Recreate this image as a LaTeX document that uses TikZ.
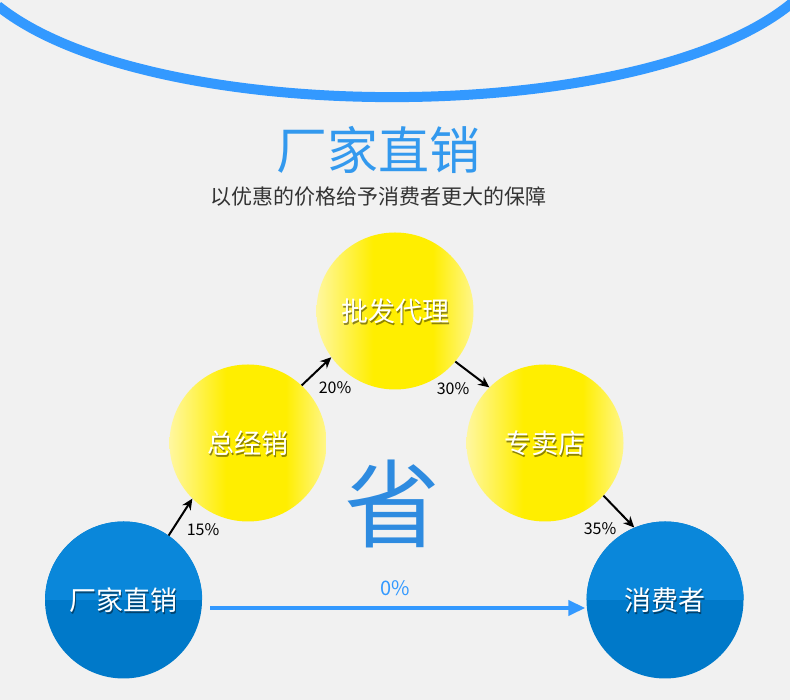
\documentclass[tikz,border=0pt]{standalone}
\usepackage{fontspec}
\setmainfont{Noto Sans CJK SC}
\usetikzlibrary{arrows.meta}
\definecolor{bg}{HTML}{F1F1F1}
\definecolor{arcblue}{HTML}{3399FF}
\definecolor{titleblue}{HTML}{3399EE}
\definecolor{shengblue}{HTML}{2E8BE0}
\definecolor{btop}{HTML}{0A87DA}
\definecolor{bbot}{HTML}{0079C9}
\definecolor{ypale}{HTML}{FFF7A0}
\definecolor{ymain}{HTML}{FFEE00}
\definecolor{yright}{HTML}{FFF68A}
\definecolor{subgray}{HTML}{333333}
\pgfdeclarehorizontalshading{yball}{100bp}{color(0bp)=(ypale); color(25bp)=(ypale); color(43bp)=(ymain); color(62bp)=(ymain); color(75bp)=(yright); color(100bp)=(yright)}
\begin{document}
\begin{tikzpicture}[x=1pt,y=1pt,
  ycirc/.style={circle, minimum size=157pt, inner sep=0pt, shading=yball},
  bcirc/.style={circle, minimum size=157pt, inner sep=0pt, fill=bbot},
  ctext/.style={text=white, font=\fontsize{27}{27}\selectfont, inner sep=0pt},
  cshadow/.style={text=black, opacity=0.45, font=\fontsize{27}{27}\selectfont, inner sep=0pt},
  pct/.style={text=black, font=\fontsize{16}{16}\selectfont, inner sep=0pt},
  blk/.style={line width=2pt, draw=black, -{Stealth[length=11pt,width=10pt]}}]
\useasboundingbox (0,0) rectangle (790,700);
\fill[bg] (0,0) rectangle (790,700);
\begin{scope}
\clip (0,0) rectangle (790,700);
\coordinate (arcA) at (-2,694);
\coordinate (arcB) at (792,697);
\draw[arcblue, line width=10pt] (arcA) .. controls (150,572) and (640,572) .. (arcB);
\end{scope}
% titles
\node[text=titleblue, font=\fontsize{51}{51}\selectfont, inner sep=0pt] (title) at (378,550) {厂家直销};
\node[text=subgray, font=\fontsize{21}{21}\selectfont, inner sep=0pt] (sub) at (378,503) {以优惠的价格给予消费者更大的保障};
% yellow circles
\node[ycirc] (ytop) at (395,389) {};
\node[ycirc] (yl) at (248,257) {};
\node[ycirc] (yr) at (545,257) {};
% blue circles
\node[bcirc] (bl) at (123.5,100) {};
\node[bcirc] (br) at (665,100) {};
\fill[btop] (bl.east) arc (0:180:78.5) -- cycle;
\fill[btop] (br.east) arc (0:180:78.5) -- cycle;
% circle texts
\node[cshadow] (ytopS) at ([shift={(1.2,-2)}]ytop.center) {批发代理};
\node[ctext] (ytopT) at (ytop.center) {批发代理};
\node[cshadow] (ylS) at ([shift={(1.2,-2)}]yl.center) {总经销};
\node[ctext] (ylT) at (yl.center) {总经销};
\node[cshadow] (yrS) at ([shift={(1.2,-2)}]yr.center) {专卖店};
\node[ctext] (yrT) at (yr.center) {专卖店};
\node[cshadow] (blS) at ([shift={(1.2,-2)}]bl.center) {厂家直销};
\node[ctext] (blT) at (bl.center) {厂家直销};
\node[cshadow] (brS) at ([shift={(1.2,-2)}]br.center) {消费者};
\node[ctext] (brT) at (br.center) {消费者};
% sheng
\node[text=shengblue, font=\fontsize{96}{96}\selectfont, inner sep=0pt] (sheng) at (392,196) {省};
% black arrows
\draw[blk] (bl.55) -- (yl.225);
\draw[blk] (yl.47) -- (ytop.216);
\draw[blk] (ytop.320) -- (yr.135);
\draw[blk] (yr.318) -- (br.113);
\node[pct] (p15) at (203,170) {15\%};
\node[pct] (p20) at (335,312) {20\%};
\node[pct] (p30) at (453,311) {30\%};
\node[pct] (p35) at (600,171) {35\%};
% blue horizontal arrow
\draw[arcblue, line width=4pt, -{Triangle[length=17pt,width=15pt]}] ([shift={(8,-8)}]bl.east) -- ([shift={(-1,-8)}]br.west);
\node[text=arcblue, font=\fontsize{20}{20}\selectfont, inner sep=0pt] (p0) at (395,112) {0\%};
\end{tikzpicture}
\end{document}
